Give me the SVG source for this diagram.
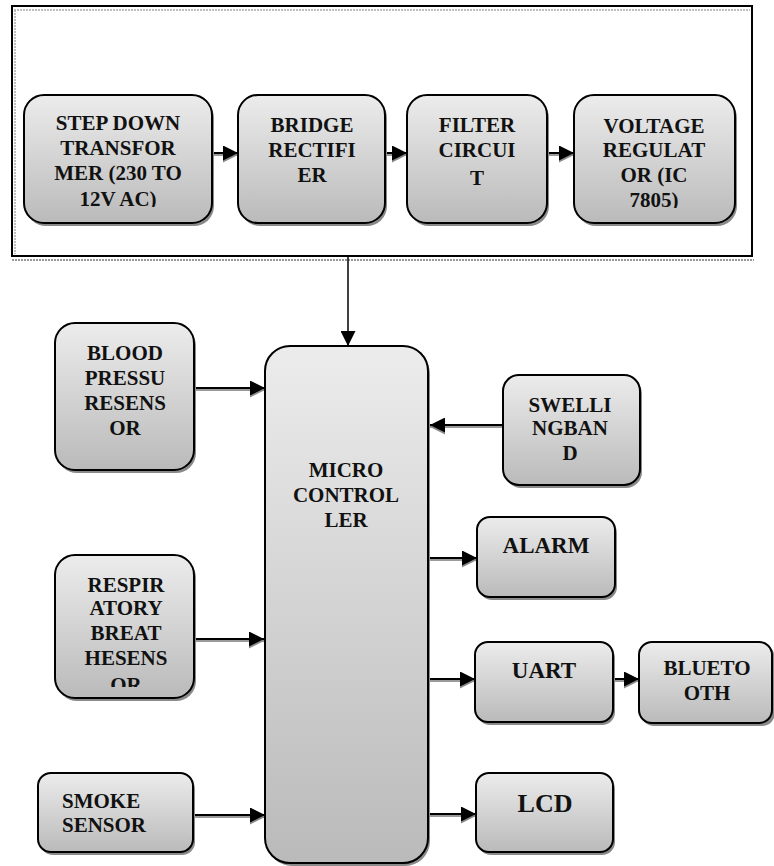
<svg xmlns="http://www.w3.org/2000/svg" width="774" height="866" viewBox="0 0 774 866">
<defs>
<linearGradient id="g" x1="0" y1="0" x2="0" y2="1">
<stop offset="0" stop-color="#ececec"/>
<stop offset="1" stop-color="#bababa"/>
</linearGradient>
<marker id="ah" markerWidth="15" markerHeight="15" refX="15" refY="7.5" orient="auto" markerUnits="userSpaceOnUse">
<path d="M0,0 L15,7.5 L0,15 z" fill="#000"/>
</marker>
<marker id="ahs" markerWidth="15" markerHeight="15" refX="15" refY="7.5" orient="auto" markerUnits="userSpaceOnUse">
<path d="M0,0 L15,7.5 L0,15 z" fill="#8a8a8a"/>
</marker>
<clipPath id="c1"><rect x="24" y="95" width="188" height="112"/></clipPath>
<clipPath id="c4"><rect x="574" y="95" width="161" height="113"/></clipPath>
<clipPath id="cr"><rect x="55" y="555" width="139" height="132"/></clipPath>
</defs>
<style>
.box{fill:url(#g);stroke:#000;stroke-width:2}
.sh{fill:#8a8a8a}
.t{font-family:"Liberation Serif","Times New Roman",serif;font-weight:bold;font-size:21px;fill:#111;text-anchor:middle}
.tl{text-anchor:start}
.ln{stroke:#000;stroke-width:2;fill:none;marker-end:url(#ah)}
.ls{stroke:#9a9a9a;stroke-width:2;fill:none;marker-end:url(#ahs)}
</style>

<g id="power-frame">
<rect x="12" y="6" width="740" height="250" fill="#fff" stroke="#000" stroke-width="2"/>
<line x1="14" y1="10" x2="750" y2="10" stroke="#aaa" stroke-width="1.5" stroke-dasharray="2 1"/>
<line x1="15" y1="10" x2="15" y2="254" stroke="#aaa" stroke-width="1.5" stroke-dasharray="2 1"/>
<line x1="12" y1="260" x2="754" y2="260" stroke="#999" stroke-width="2" stroke-dasharray="2 1"/>
</g>

<g id="connectors">
<line class="ls" x1="212" y1="155" x2="238" y2="155"/>
<line class="ln" x1="212" y1="153" x2="238" y2="153"/>
<line class="ls" x1="385" y1="155" x2="407" y2="155"/>
<line class="ln" x1="385" y1="153" x2="407" y2="153"/>
<line class="ls" x1="547" y1="155" x2="574" y2="155"/>
<line class="ln" x1="547" y1="153" x2="574" y2="153"/>
<line x1="348" y1="257" x2="348" y2="346" stroke="#000" stroke-width="1.5" marker-end="url(#ah)"/>
<line class="ls" x1="194" y1="390" x2="265" y2="390"/>
<line class="ln" x1="194" y1="388" x2="265" y2="388"/>
<line class="ls" x1="194" y1="641" x2="264" y2="641"/>
<line class="ln" x1="194" y1="639" x2="264" y2="639"/>
<line class="ls" x1="193" y1="817" x2="265" y2="817"/>
<line class="ln" x1="193" y1="815" x2="265" y2="815"/>
<line class="ls" x1="503" y1="427" x2="430" y2="427"/>
<line class="ln" x1="503" y1="425" x2="430" y2="425"/>
<line class="ls" x1="428" y1="560" x2="477" y2="560"/>
<line class="ln" x1="428" y1="558" x2="477" y2="558"/>
<line class="ls" x1="428" y1="681" x2="475" y2="681"/>
<line class="ln" x1="428" y1="679" x2="475" y2="679"/>
<line class="ls" x1="613" y1="681" x2="639" y2="681"/>
<line class="ln" x1="613" y1="679" x2="639" y2="679"/>
<line class="ls" x1="428" y1="816" x2="476" y2="816"/>
<line class="ln" x1="428" y1="814" x2="476" y2="814"/>
</g>

<g id="stepdown">
<rect class="sh" x="26" y="98" width="188" height="128" rx="20"/>
<rect class="box" x="24" y="95" width="188" height="128" rx="20"/>
<g clip-path="url(#c1)">
<text class="t" x="118" y="130">STEP DOWN</text>
<text class="t" x="118" y="155">TRANSFOR</text>
<text class="t" x="118" y="180">MER (230 TO</text>
<text class="t" x="118" y="206">12V AC)</text>
</g>
</g>

<g id="bridge">
<rect class="sh" x="240" y="98" width="147" height="128" rx="20"/>
<rect class="box" x="238" y="95" width="147" height="128" rx="20"/>
<text class="t" x="312" y="132">BRIDGE</text>
<text class="t" x="312" y="157">RECTIFI</text>
<text class="t" x="312" y="182">ER</text>
</g>

<g id="filter">
<rect class="sh" x="409" y="98" width="140" height="128" rx="20"/>
<rect class="box" x="407" y="95" width="140" height="128" rx="20"/>
<text class="t" x="477" y="132">FILTER</text>
<text class="t" x="477" y="157">CIRCUI</text>
<text class="t" x="477" y="185">T</text>
</g>

<g id="regulator">
<rect class="sh" x="576" y="98" width="161" height="128" rx="20"/>
<rect class="box" x="574" y="95" width="161" height="128" rx="20"/>
<g clip-path="url(#c4)">
<text class="t" x="654" y="133">VOLTAGE</text>
<text class="t" x="654" y="157">REGULAT</text>
<text class="t" x="654" y="182">OR (IC</text>
<text class="t" x="654" y="207">7805)</text>
</g>
</g>

<g id="microcontroller">
<rect class="sh" x="267" y="349" width="163" height="517" rx="25"/>
<rect class="box" x="265" y="346" width="163" height="517" rx="25"/>
<text class="t" x="346" y="477">MICRO</text>
<text class="t" x="346" y="502">CONTROL</text>
<text class="t" x="346" y="527">LER</text>
</g>

<g id="bloodpressure">
<rect class="sh" x="57" y="326" width="139" height="147" rx="20"/>
<rect class="box" x="55" y="323" width="139" height="147" rx="20"/>
<text class="t" x="125" y="360">BLOOD</text>
<text class="t" x="125" y="385">PRESSU</text>
<text class="t" x="125" y="410">RESENS</text>
<text class="t" x="125" y="435">OR</text>
</g>

<g id="respiratory">
<rect class="sh" x="57" y="558" width="139" height="143" rx="20"/>
<rect class="box" x="55" y="555" width="139" height="143" rx="20"/>
<g clip-path="url(#cr)">
<text class="t" x="126" y="592">RESPIR</text>
<text class="t" x="126" y="615">ATORY</text>
<text class="t" x="126" y="640">BREAT</text>
<text class="t" x="126" y="665">HESENS</text>
<text class="t" x="126" y="692">OR</text>
</g>
</g>

<g id="smoke">
<rect class="sh" x="40" y="776" width="155" height="79" rx="13"/>
<rect class="box" x="38" y="773" width="155" height="79" rx="13"/>
<text class="t tl" x="62" y="808">SMOKE</text>
<text class="t tl" x="62" y="832">SENSOR</text>
</g>

<g id="swelling">
<rect class="sh" x="505" y="378" width="137" height="110" rx="16"/>
<rect class="box" x="503" y="375" width="137" height="110" rx="16"/>
<text class="t" x="570" y="412">SWELLI</text>
<text class="t" x="570" y="435">NGBAN</text>
<text class="t" x="570" y="460">D</text>
</g>

<g id="alarm">
<rect class="sh" x="479" y="520" width="138" height="80" rx="13"/>
<rect class="box" x="477" y="517" width="138" height="80" rx="13"/>
<text class="t" x="546" y="553" style="font-size:23px">ALARM</text>
</g>

<g id="uart">
<rect class="sh" x="477" y="645" width="138" height="80" rx="13"/>
<rect class="box" x="475" y="642" width="138" height="80" rx="13"/>
<text class="t" x="544" y="678" style="font-size:23px">UART</text>
</g>

<g id="bluetooth">
<rect class="sh" x="641" y="645" width="134" height="81" rx="13"/>
<rect class="box" x="639" y="642" width="133" height="81" rx="13"/>
<text class="t" x="707" y="675">BLUETO</text>
<text class="t" x="707" y="700">OTH</text>
</g>

<g id="lcd">
<rect class="sh" x="478" y="776" width="137" height="79" rx="13"/>
<rect class="box" x="476" y="773" width="137" height="79" rx="13"/>
<text class="t" x="545" y="812" style="font-size:26px">LCD</text>
</g>
</svg>
